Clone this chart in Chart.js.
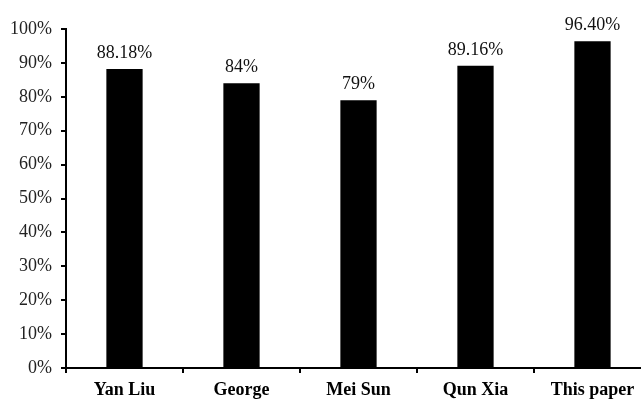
<!DOCTYPE html>
<html>
<head>
<meta charset="utf-8">
<script src="https://cdn.jsdelivr.net/npm/chart.js@4/dist/chart.umd.min.js"></script>
<style>
  html, body { margin: 0; padding: 0; background: #fff; overflow: hidden; }
  #wrap { width: 641px; height: 399px; overflow: hidden; }
  canvas { display: block; }
</style>
</head>
<body>
<div id="wrap"><canvas id="c" width="660" height="399"></canvas></div>
<script>
// Recognition accuracy per method
const methods = ['Yan Liu', 'George', 'Mei Sun', 'Qun Xia', 'This paper'];
const accuracy = [88.18, 84, 79, 89.16, 96.40];
const labelDecimals = [2, 0, 0, 2, 2];
const yTicks = [0, 10, 20, 30, 40, 50, 60, 70, 80, 90, 100];

const serif = '"Liberation Serif", "Times New Roman", serif';

// Writes each bar's value above it
const valueLabels = {
  id: 'valueLabels',
  afterDatasetsDraw(chart) {
    const ctx = chart.ctx;
    const meta = chart.getDatasetMeta(0);
    ctx.save();
    ctx.font = '18px ' + serif;
    ctx.fillStyle = '#111';
    ctx.textAlign = 'center';
    ctx.textBaseline = 'alphabetic';
    meta.data.forEach((bar, i) => {
      const txt = accuracy[i].toFixed(labelDecimals[i]) + '%';
      ctx.fillText(txt, bar.x, bar.y - 11);
    });
    ctx.restore();
  }
};

new Chart(document.getElementById('c'), {
  type: 'bar',
  data: {
    labels: methods,
    datasets: [{
      data: accuracy,
      backgroundColor: '#000',
      borderWidth: 0,
      categoryPercentage: 1,
      barPercentage: 0.31
    }]
  },
  options: {
    responsive: false,
    animation: false,
    devicePixelRatio: 1,
    layout: { padding: { top: 29, right: 9, left: 0, bottom: 0 } },
    plugins: { legend: { display: false }, tooltip: { enabled: false } },
    scales: {
      x: {
        grid: { display: true, drawOnChartArea: false, drawTicks: true, tickLength: 5, color: '#000', lineWidth: 2, offset: true },
        border: { display: true, color: '#000', width: 2 },
        ticks: { color: '#000', font: { family: serif, size: 18, weight: 'bold' }, padding: 7, maxRotation: 0 },
        afterFit(s) { s.height = 31; }
      },
      y: {
        min: 0,
        max: 100,
        afterBuildTicks(s) { s.ticks = yTicks.map(v => ({ value: v })); },
        grid: { display: true, drawOnChartArea: false, drawTicks: true, tickLength: 5, color: '#000', lineWidth: 2 },
        border: { display: true, color: '#000', width: 2 },
        ticks: { color: '#222', font: { family: serif, size: 18 }, padding: 9, callback: v => v + '%' },
        afterFit(s) { s.width = 66; }
      }
    }
  },
  plugins: [valueLabels]
});
</script>
</body>
</html>
